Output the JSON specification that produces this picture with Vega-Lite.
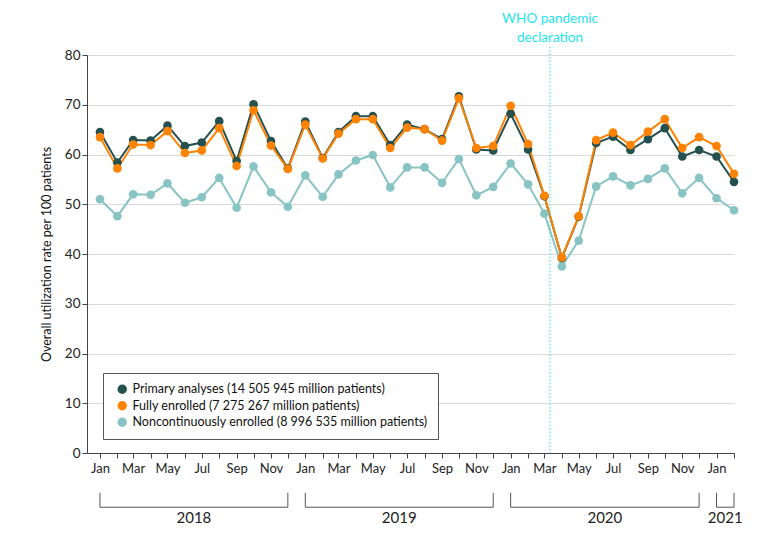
{
  "$schema": "https://vega.github.io/schema/vega-lite/v6.json",
  "width": 647,
  "height": 398,
  "autosize": "none",
  "padding": {"left": 87, "top": 55, "right": 46, "bottom": 84},
  "background": "white",
  "config": {
    "font": "Lato",
    "view": {"stroke": null},
    "axis": {"labelFont": "Lato", "titleFont": "Lato", "labelColor": "#222", "titleColor": "#111", "labelFontSize": 13.5, "titleFontSize": 12.5, "titleFontWeight": "normal"},
    "legend": {"labelFont": "Lato"}
  },
  "resolve": {"legend": {"color": "independent"}},
  "datasets": {
    "series": [
      {"date": "2018-01-01", "group": "Noncontinuously enrolled (8 996 535 million patients)", "rate": 51.0},
      {"date": "2018-02-01", "group": "Noncontinuously enrolled (8 996 535 million patients)", "rate": 47.6},
      {"date": "2018-03-01", "group": "Noncontinuously enrolled (8 996 535 million patients)", "rate": 52.0},
      {"date": "2018-04-01", "group": "Noncontinuously enrolled (8 996 535 million patients)", "rate": 51.9},
      {"date": "2018-05-01", "group": "Noncontinuously enrolled (8 996 535 million patients)", "rate": 54.2},
      {"date": "2018-06-01", "group": "Noncontinuously enrolled (8 996 535 million patients)", "rate": 50.3},
      {"date": "2018-07-01", "group": "Noncontinuously enrolled (8 996 535 million patients)", "rate": 51.4},
      {"date": "2018-08-01", "group": "Noncontinuously enrolled (8 996 535 million patients)", "rate": 55.3},
      {"date": "2018-09-01", "group": "Noncontinuously enrolled (8 996 535 million patients)", "rate": 49.3},
      {"date": "2018-10-01", "group": "Noncontinuously enrolled (8 996 535 million patients)", "rate": 57.6},
      {"date": "2018-11-01", "group": "Noncontinuously enrolled (8 996 535 million patients)", "rate": 52.4},
      {"date": "2018-12-01", "group": "Noncontinuously enrolled (8 996 535 million patients)", "rate": 49.5},
      {"date": "2019-01-01", "group": "Noncontinuously enrolled (8 996 535 million patients)", "rate": 55.8},
      {"date": "2019-02-01", "group": "Noncontinuously enrolled (8 996 535 million patients)", "rate": 51.5},
      {"date": "2019-03-01", "group": "Noncontinuously enrolled (8 996 535 million patients)", "rate": 56.0},
      {"date": "2019-04-01", "group": "Noncontinuously enrolled (8 996 535 million patients)", "rate": 58.8},
      {"date": "2019-05-01", "group": "Noncontinuously enrolled (8 996 535 million patients)", "rate": 59.9},
      {"date": "2019-06-01", "group": "Noncontinuously enrolled (8 996 535 million patients)", "rate": 53.4},
      {"date": "2019-07-01", "group": "Noncontinuously enrolled (8 996 535 million patients)", "rate": 57.4},
      {"date": "2019-08-01", "group": "Noncontinuously enrolled (8 996 535 million patients)", "rate": 57.4},
      {"date": "2019-09-01", "group": "Noncontinuously enrolled (8 996 535 million patients)", "rate": 54.3},
      {"date": "2019-10-01", "group": "Noncontinuously enrolled (8 996 535 million patients)", "rate": 59.1},
      {"date": "2019-11-01", "group": "Noncontinuously enrolled (8 996 535 million patients)", "rate": 51.8},
      {"date": "2019-12-01", "group": "Noncontinuously enrolled (8 996 535 million patients)", "rate": 53.5},
      {"date": "2020-01-01", "group": "Noncontinuously enrolled (8 996 535 million patients)", "rate": 58.2},
      {"date": "2020-02-01", "group": "Noncontinuously enrolled (8 996 535 million patients)", "rate": 54.0},
      {"date": "2020-03-01", "group": "Noncontinuously enrolled (8 996 535 million patients)", "rate": 48.1},
      {"date": "2020-04-01", "group": "Noncontinuously enrolled (8 996 535 million patients)", "rate": 37.5},
      {"date": "2020-05-01", "group": "Noncontinuously enrolled (8 996 535 million patients)", "rate": 42.7},
      {"date": "2020-06-01", "group": "Noncontinuously enrolled (8 996 535 million patients)", "rate": 53.6},
      {"date": "2020-07-01", "group": "Noncontinuously enrolled (8 996 535 million patients)", "rate": 55.6},
      {"date": "2020-08-01", "group": "Noncontinuously enrolled (8 996 535 million patients)", "rate": 53.8},
      {"date": "2020-09-01", "group": "Noncontinuously enrolled (8 996 535 million patients)", "rate": 55.1},
      {"date": "2020-10-01", "group": "Noncontinuously enrolled (8 996 535 million patients)", "rate": 57.2},
      {"date": "2020-11-01", "group": "Noncontinuously enrolled (8 996 535 million patients)", "rate": 52.2},
      {"date": "2020-12-01", "group": "Noncontinuously enrolled (8 996 535 million patients)", "rate": 55.3},
      {"date": "2021-01-01", "group": "Noncontinuously enrolled (8 996 535 million patients)", "rate": 51.2},
      {"date": "2021-02-01", "group": "Noncontinuously enrolled (8 996 535 million patients)", "rate": 48.8},
      {"date": "2018-01-01", "group": "Primary analyses (14 505 945 million patients)", "rate": 64.5},
      {"date": "2018-02-01", "group": "Primary analyses (14 505 945 million patients)", "rate": 58.4},
      {"date": "2018-03-01", "group": "Primary analyses (14 505 945 million patients)", "rate": 62.9},
      {"date": "2018-04-01", "group": "Primary analyses (14 505 945 million patients)", "rate": 62.8},
      {"date": "2018-05-01", "group": "Primary analyses (14 505 945 million patients)", "rate": 65.8},
      {"date": "2018-06-01", "group": "Primary analyses (14 505 945 million patients)", "rate": 61.7},
      {"date": "2018-07-01", "group": "Primary analyses (14 505 945 million patients)", "rate": 62.4},
      {"date": "2018-08-01", "group": "Primary analyses (14 505 945 million patients)", "rate": 66.7},
      {"date": "2018-09-01", "group": "Primary analyses (14 505 945 million patients)", "rate": 58.7},
      {"date": "2018-10-01", "group": "Primary analyses (14 505 945 million patients)", "rate": 70.1},
      {"date": "2018-11-01", "group": "Primary analyses (14 505 945 million patients)", "rate": 62.7},
      {"date": "2018-12-01", "group": "Primary analyses (14 505 945 million patients)", "rate": 57.2},
      {"date": "2019-01-01", "group": "Primary analyses (14 505 945 million patients)", "rate": 66.6},
      {"date": "2019-02-01", "group": "Primary analyses (14 505 945 million patients)", "rate": 59.3},
      {"date": "2019-03-01", "group": "Primary analyses (14 505 945 million patients)", "rate": 64.5},
      {"date": "2019-04-01", "group": "Primary analyses (14 505 945 million patients)", "rate": 67.7},
      {"date": "2019-05-01", "group": "Primary analyses (14 505 945 million patients)", "rate": 67.7},
      {"date": "2019-06-01", "group": "Primary analyses (14 505 945 million patients)", "rate": 61.9},
      {"date": "2019-07-01", "group": "Primary analyses (14 505 945 million patients)", "rate": 66.0},
      {"date": "2019-08-01", "group": "Primary analyses (14 505 945 million patients)", "rate": 65.1},
      {"date": "2019-09-01", "group": "Primary analyses (14 505 945 million patients)", "rate": 63.1},
      {"date": "2019-10-01", "group": "Primary analyses (14 505 945 million patients)", "rate": 71.7},
      {"date": "2019-11-01", "group": "Primary analyses (14 505 945 million patients)", "rate": 61.0},
      {"date": "2019-12-01", "group": "Primary analyses (14 505 945 million patients)", "rate": 60.8},
      {"date": "2020-01-01", "group": "Primary analyses (14 505 945 million patients)", "rate": 68.2},
      {"date": "2020-02-01", "group": "Primary analyses (14 505 945 million patients)", "rate": 61.0},
      {"date": "2020-03-01", "group": "Primary analyses (14 505 945 million patients)", "rate": 51.6},
      {"date": "2020-04-01", "group": "Primary analyses (14 505 945 million patients)", "rate": 39.2},
      {"date": "2020-05-01", "group": "Primary analyses (14 505 945 million patients)", "rate": 47.5},
      {"date": "2020-06-01", "group": "Primary analyses (14 505 945 million patients)", "rate": 62.3},
      {"date": "2020-07-01", "group": "Primary analyses (14 505 945 million patients)", "rate": 63.6},
      {"date": "2020-08-01", "group": "Primary analyses (14 505 945 million patients)", "rate": 60.9},
      {"date": "2020-09-01", "group": "Primary analyses (14 505 945 million patients)", "rate": 63.1},
      {"date": "2020-10-01", "group": "Primary analyses (14 505 945 million patients)", "rate": 65.3},
      {"date": "2020-11-01", "group": "Primary analyses (14 505 945 million patients)", "rate": 59.6},
      {"date": "2020-12-01", "group": "Primary analyses (14 505 945 million patients)", "rate": 60.9},
      {"date": "2021-01-01", "group": "Primary analyses (14 505 945 million patients)", "rate": 59.6},
      {"date": "2021-02-01", "group": "Primary analyses (14 505 945 million patients)", "rate": 54.5},
      {"date": "2018-01-01", "group": "Fully enrolled (7 275 267 million patients)", "rate": 63.5},
      {"date": "2018-02-01", "group": "Fully enrolled (7 275 267 million patients)", "rate": 57.2},
      {"date": "2018-03-01", "group": "Fully enrolled (7 275 267 million patients)", "rate": 62.0},
      {"date": "2018-04-01", "group": "Fully enrolled (7 275 267 million patients)", "rate": 61.9},
      {"date": "2018-05-01", "group": "Fully enrolled (7 275 267 million patients)", "rate": 64.7},
      {"date": "2018-06-01", "group": "Fully enrolled (7 275 267 million patients)", "rate": 60.3},
      {"date": "2018-07-01", "group": "Fully enrolled (7 275 267 million patients)", "rate": 60.8},
      {"date": "2018-08-01", "group": "Fully enrolled (7 275 267 million patients)", "rate": 65.3},
      {"date": "2018-09-01", "group": "Fully enrolled (7 275 267 million patients)", "rate": 57.7},
      {"date": "2018-10-01", "group": "Fully enrolled (7 275 267 million patients)", "rate": 68.9},
      {"date": "2018-11-01", "group": "Fully enrolled (7 275 267 million patients)", "rate": 61.8},
      {"date": "2018-12-01", "group": "Fully enrolled (7 275 267 million patients)", "rate": 57.1},
      {"date": "2019-01-01", "group": "Fully enrolled (7 275 267 million patients)", "rate": 66.0},
      {"date": "2019-02-01", "group": "Fully enrolled (7 275 267 million patients)", "rate": 59.2},
      {"date": "2019-03-01", "group": "Fully enrolled (7 275 267 million patients)", "rate": 64.2},
      {"date": "2019-04-01", "group": "Fully enrolled (7 275 267 million patients)", "rate": 67.1},
      {"date": "2019-05-01", "group": "Fully enrolled (7 275 267 million patients)", "rate": 67.1},
      {"date": "2019-06-01", "group": "Fully enrolled (7 275 267 million patients)", "rate": 61.3},
      {"date": "2019-07-01", "group": "Fully enrolled (7 275 267 million patients)", "rate": 65.4},
      {"date": "2019-08-01", "group": "Fully enrolled (7 275 267 million patients)", "rate": 65.1},
      {"date": "2019-09-01", "group": "Fully enrolled (7 275 267 million patients)", "rate": 62.8},
      {"date": "2019-10-01", "group": "Fully enrolled (7 275 267 million patients)", "rate": 71.3},
      {"date": "2019-11-01", "group": "Fully enrolled (7 275 267 million patients)", "rate": 61.3},
      {"date": "2019-12-01", "group": "Fully enrolled (7 275 267 million patients)", "rate": 61.7},
      {"date": "2020-01-01", "group": "Fully enrolled (7 275 267 million patients)", "rate": 69.8},
      {"date": "2020-02-01", "group": "Fully enrolled (7 275 267 million patients)", "rate": 62.1},
      {"date": "2020-03-01", "group": "Fully enrolled (7 275 267 million patients)", "rate": 51.7},
      {"date": "2020-04-01", "group": "Fully enrolled (7 275 267 million patients)", "rate": 39.3},
      {"date": "2020-05-01", "group": "Fully enrolled (7 275 267 million patients)", "rate": 47.6},
      {"date": "2020-06-01", "group": "Fully enrolled (7 275 267 million patients)", "rate": 62.9},
      {"date": "2020-07-01", "group": "Fully enrolled (7 275 267 million patients)", "rate": 64.4},
      {"date": "2020-08-01", "group": "Fully enrolled (7 275 267 million patients)", "rate": 61.9},
      {"date": "2020-09-01", "group": "Fully enrolled (7 275 267 million patients)", "rate": 64.6},
      {"date": "2020-10-01", "group": "Fully enrolled (7 275 267 million patients)", "rate": 67.1},
      {"date": "2020-11-01", "group": "Fully enrolled (7 275 267 million patients)", "rate": 61.3},
      {"date": "2020-12-01", "group": "Fully enrolled (7 275 267 million patients)", "rate": 63.5},
      {"date": "2021-01-01", "group": "Fully enrolled (7 275 267 million patients)", "rate": 61.7},
      {"date": "2021-02-01", "group": "Fully enrolled (7 275 267 million patients)", "rate": 56.1}
    ],
    "years": [
      {"year": "2018", "start": "2018-01-01", "end": "2018-12-01"},
      {"year": "2019", "start": "2019-01-01", "end": "2019-12-01"},
      {"year": "2020", "start": "2020-01-01", "end": "2020-12-01"},
      {"year": "2021", "start": "2021-01-01", "end": "2021-02-01"}
    ],
    "events": [
      {"date": "2020-03-11", "label": ["WHO pandemic", "declaration"]}
    ]
  },
  "layer": [
    {
      "data": {"name": "series"},
      "mark": {"type": "line", "strokeWidth": 2},
      "encoding": {
        "x": {
          "field": "date", "type": "temporal",
          "scale": {"type": "utc", "domain": [{"year": 2017, "month": 12, "date": 9, "utc": true}, {"year": 2021, "month": 2, "date": 1, "utc": true}]},
          "axis": {
            "title": null, "grid": false, "domainColor": "#444", "tickColor": "#444", "tickSize": 5,
            "tickCount": {"interval": "month", "step": 1},
            "labelExpr": "utcmonth(datum.value) % 2 == 0 ? utcFormat(datum.value, '%b') : ''",
            "labelPadding": 4, "labelFontSize": 13, "labelFlush": false, "labelOverlap": false
          }
        },
        "y": {
          "field": "rate", "type": "quantitative",
          "scale": {"domain": [0, 80], "nice": false},
          "axis": {
            "title": "Overall utilization rate per 100 patients",
            "values": [0, 10, 20, 30, 40, 50, 60, 70, 80],
            "grid": true, "gridColor": "#dadada", "domainColor": "#444", "tickColor": "#444", "tickSize": 5,
            "labelPadding": 2, "titlePadding": 11
          }
        },
        "color": {
          "field": "group", "type": "nominal",
          "scale": {
            "domain": ["Primary analyses (14 505 945 million patients)", "Fully enrolled (7 275 267 million patients)", "Noncontinuously enrolled (8 996 535 million patients)"],
            "range": ["#24504f", "#ff8200", "#87c4c3"]
          },
          "legend": null
        },
        "detail": {"field": "group"}
      }
    },
    {
      "data": {"name": "series"},
      "mark": {"type": "point", "filled": true, "opacity": 1, "size": 75},
      "encoding": {
        "x": {"field": "date", "type": "temporal"},
        "y": {"field": "rate", "type": "quantitative"},
        "color": {
          "field": "group", "type": "nominal",
          "legend": {
            "title": null, "orient": "none", "legendX": 16, "legendY": 318,
            "symbolType": "circle", "symbolSize": 90, "labelFontSize": 12.5, "labelColor": "#111",
            "labelLimit": 500, "strokeColor": "#555", "fillColor": "white", "padding": 10,
            "rowPadding": 3.5, "cornerRadius": 0, "symbolOffset": 3
          }
        }
      }
    },
    {
      "data": {"name": "events"},
      "mark": {"type": "rule", "color": "#2fd8e6", "strokeDash": [1.5, 2], "strokeWidth": 1},
      "encoding": {
        "x": {"field": "date", "type": "temporal"},
        "y": {"datum": 81.7},
        "y2": {"datum": 0}
      }
    },
    {
      "data": {"name": "events"},
      "mark": {"type": "text", "color": "#1ee4ee", "fontSize": 13.5, "baseline": "bottom", "align": "center", "lineHeight": 19},
      "encoding": {
        "x": {"field": "date", "type": "temporal"},
        "y": {"datum": 85.8},
        "text": {"field": "label"}
      }
    },
    {
      "data": {"name": "years"},
      "mark": {"type": "rule", "color": "#555", "strokeWidth": 1},
      "encoding": {
        "x": {"field": "start", "type": "temporal"},
        "x2": {"field": "end"},
        "y": {"datum": -10.9}
      }
    },
    {
      "data": {"name": "years"},
      "mark": {"type": "rule", "color": "#555", "strokeWidth": 1},
      "encoding": {
        "x": {"field": "start", "type": "temporal"},
        "y": {"datum": -8.0},
        "y2": {"datum": -10.9}
      }
    },
    {
      "data": {"name": "years"},
      "mark": {"type": "rule", "color": "#555", "strokeWidth": 1},
      "encoding": {
        "x": {"field": "end", "type": "temporal"},
        "y": {"datum": -8.0},
        "y2": {"datum": -10.9}
      }
    },
    {
      "data": {"name": "years"},
      "transform": [{"calculate": "(toDate(datum.start) + toDate(datum.end)) / 2", "as": "mid"}],
      "mark": {"type": "text", "color": "#222", "fontSize": 15, "baseline": "middle", "align": "center"},
      "encoding": {
        "x": {"field": "mid", "type": "temporal"},
        "y": {"datum": -13.1},
        "text": {"field": "year"}
      }
    }
  ]
}
